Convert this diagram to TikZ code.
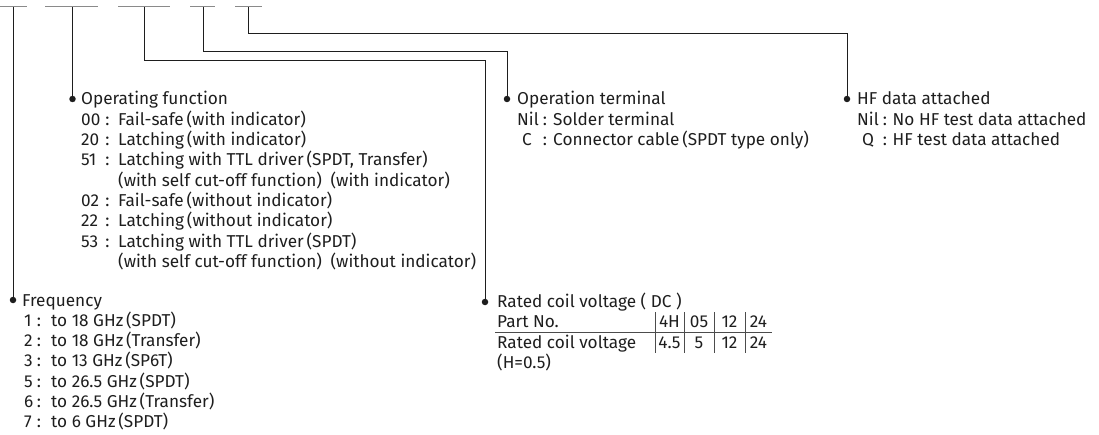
\documentclass[tikz,border=0pt]{standalone}
\usepackage{fontspec}
\setmainfont{Fira Sans}
\definecolor{ink}{HTML}{1E1E1E}
\definecolor{barc}{HTML}{8A8A8A}

\begin{document}
\begin{tikzpicture}[x=1pt,y=-1pt,
        txt/.style={
            anchor=base west,inner sep=0pt,
            text=ink,font=\fontsize{17.2}{20}\selectfont,
        },
        ctr/.style={txt,anchor=base},
        dotsty/.style={circle,fill=ink,inner sep=0pt,minimum size=6.5pt},
        lnsty/.style={draw=ink,line width=0.9pt},
        barsty/.style={draw=barc,line width=1pt},
        tabsty/.style={draw=black!70,line width=0.8pt},
    ]
    \useasboundingbox (0,0) rectangle (1099,435);

    \foreach \n/\x/\l/\r in {1/13/0/27,2/72.5/45/98,3/144/118/170,4/203/190/215,5/248/235/262}{
        \coordinate (b\n) at (\x,7);
        \draw[barsty] (\l,7) -- (\r,7);
    }
    \node[dotsty] (dfreq) at (13,300) {};
    \node[dotsty] (dop) at (72.5,99) {};
    \node[dotsty] (drated) at (485,302) {};
    \node[dotsty] (dterm) at (507,99) {};
    \node[dotsty] (dhf) at (847,99) {};
    \coordinate (k3) at (485,60);
    \coordinate (k4) at (507,51);
    \coordinate (k5) at (847,33);
    \draw[lnsty] (b1) -- (dfreq);
    \draw[lnsty] (b2) -- (dop);
    \draw[lnsty] (b3) |- (k3) -- (drated);
    \draw[lnsty] (b4) |- (k4) -- (dterm);
    \draw[lnsty] (b5) |- (k5) -- (dhf);

    \node[txt] (top) at (81,105) {Operating function};
    \foreach \n/\t in {1/{Fail-safe\,(with indicator)},2/{Latching\,(with indicator)},
        3/{Latching with TTL driver\,(SPDT, Transfer)},4/{(with self cut-off function)\enspace(with indicator)},
        5/{Fail-safe\,(without indicator)},6/{Latching\,(without indicator)},
        7/{Latching with TTL driver\,(SPDT)},8/{(with self cut-off function)\enspace(without indicator)}}{
        \node[txt] (ot\n) at (118,105+20.3*\n) {\t};
    }
    \foreach \n/\c in {1/00,2/20,3/51,5/02,6/22,7/53}{
        \node[txt] (oc\n) at (81,105+20.3*\n) {\c};
        \node[ctr] (ok\n) at (107.5,105+20.3*\n) {:};
    }

    \node[txt] (tfreq) at (22,306) {Frequency};
    \foreach \n/\c/\t in {1/1/{to 18 GHz\,(SPDT)},2/2/{to 18 GHz\,(Transfer)},3/3/{to 13 GHz\,(SP6T)},
        4/5/{to 26.5 GHz\,(SPDT)},5/6/{to 26.5 GHz\,(Transfer)},6/7/{to 6 GHz\,(SPDT)}}{
        \node[txt] (fc\n) at (24,306+20.3*\n) {\c};
        \node[ctr] (fk\n) at (39,306+20.3*\n) {:};
        \node[txt] (ft\n) at (51,306+20.3*\n) {\t};
    }

    \node[txt] (tterm) at (517,105) {Operation terminal};
    \foreach \n/\c/\x/\t in {1/Nil/517/{Solder terminal},2/C/522/{Connector cable\,(SPDT type only)}}{
        \node[txt] (mc\n) at (\x,105+20.3*\n) {\c};
        \node[ctr] (mk\n) at (545,105+20.3*\n) {:};
        \node[txt] (mt\n) at (553,105+20.3*\n) {\t};
    }

    \node[txt] (thf) at (857,105) {HF data attached};
    \foreach \n/\c/\x/\t in {1/Nil/857/{No HF test data attached},2/Q/862/{HF test data attached}}{
        \node[txt] (hc\n) at (\x,105+20.3*\n) {\c};
        \node[ctr] (hk\n) at (885,105+20.3*\n) {:};
        \node[txt] (ht\n) at (892.5,105+20.3*\n) {\t};
    }

    \node[txt] (trated) at (497,307) {Rated coil voltage ( DC )};
    \node[txt] (tpart) at (497,327) {Part No.};
    \node[txt] (tcoil) at (497,348) {Rated coil voltage};
    \node[txt] (thv) at (497,368) {(H=0.5)};
    \foreach \n/\x/\a/\b in {1/669.5/4H/4.5,2/699/05/5,3/729.5/12/12,4/758.5/24/24}{
        \node[ctr] (pn\n) at (\x,327) {\a};
        \node[ctr] (cv\n) at (\x,348) {\b};
    }
    \foreach \x in {655,684,714,745}
        \draw[tabsty] (\x,312) -- (\x,353);
    \draw[tabsty] (495,332) -- (772,332);
\end{tikzpicture}
\end{document}
